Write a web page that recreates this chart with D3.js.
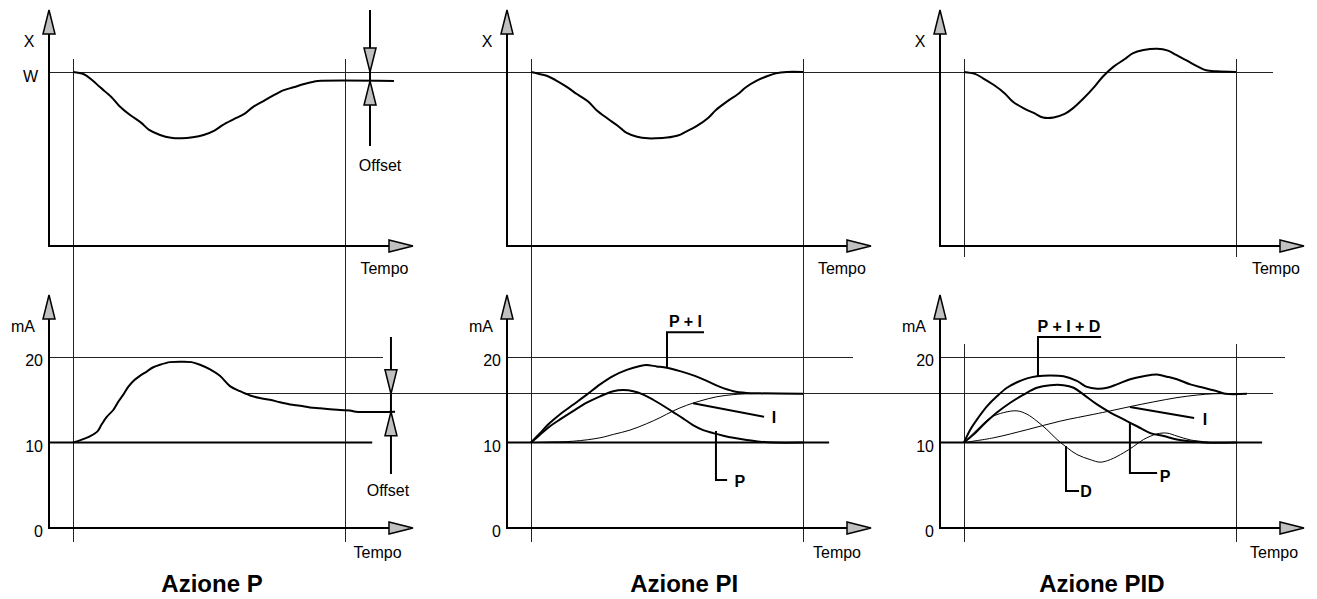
<!DOCTYPE html>
<html lang="it">
<head>
<meta charset="UTF-8">
<title>Azione P, PI, PID</title>
<script src="https://cdnjs.cloudflare.com/ajax/libs/d3/7.8.5/d3.min.js"></script>
<style>
    body { margin: 0; background: #fff; }
    svg { display: block; font-family: "Liberation Sans", Arial, sans-serif; }
    .curve { fill: none; stroke: #000; stroke-width: 2; stroke-linejoin: round; }
    .curve.thin { stroke-width: 1; }
    .ref { stroke: #222; stroke-width: 1; shape-rendering: crispEdges; }
    .thick { stroke: #000; stroke-width: 2; }
    .head { fill: #c0c0c0; stroke: #000; stroke-width: 1.5; }
    .lbl { font-size: 16px; fill: #000; }
    .tag { font-size: 16px; font-weight: bold; }
    .title { font-size: 24px; font-weight: bold; }
    .leader { fill: none; stroke: #000; stroke-width: 2; }
</style>
</head>
<body>
<div id="chart"></div>
<script>
// --- dati: [tempo, valore] ---
// grandezza X (W = 100)
const xP = [[0,100],[0.4,98.7],[0.7,95.4],[1.0,91.2],[1.4,85.8],[1.7,80.5],[2.1,75.3],[2.5,70.9],[2.8,66.7],[3.2,63.8],[3.6,62.2],[4.0,61.9],[4.4,62.5],[4.8,63.8],[5.2,66.3],[5.5,69.5],[5.9,72.8],[6.3,75.9],[6.6,79.7],[7.0,83.3],[7.4,86.8],[7.7,89.3],[8.1,91.2],[8.5,93.1],[8.8,94.3],[9.0,94.8],[11.8,94.8]];
const xPI = [[0,100],[0.3,98.9],[0.6,97.7],[0.9,95.4],[1.3,91.6],[1.7,87.2],[2.1,83.0],[2.4,78.2],[2.8,73.4],[3.2,69.0],[3.5,65.1],[3.9,62.8],[4.3,61.9],[4.6,61.9],[5.0,62.3],[5.4,63.5],[5.7,65.7],[6.1,69.0],[6.5,73.4],[6.8,78.2],[7.2,83.0],[7.6,87.2],[7.9,91.2],[8.3,95.0],[8.7,97.7],[9.0,99.2],[9.4,100],[10,100]];
const xPID = [[0,100],[0.4,98.9],[0.7,96.4],[1.1,92.5],[1.5,87.7],[1.8,82.9],[2.2,79.1],[2.6,76.2],[2.9,73.9],[3.3,73.9],[3.7,75.9],[4.0,79.1],[4.4,84.9],[4.8,91.6],[5.1,97.3],[5.5,103.1],[5.9,107.3],[6.2,110.7],[6.6,112.6],[7.1,113.4],[7.5,112.3],[7.8,109.8],[8.2,106.5],[8.6,103.1],[8.9,101.0],[9.3,100.4],[10,100]];

// uscita in mA
const maP = [[0,10],[0.3,10.3],[0.6,10.7],[0.9,11.3],[1.05,12.1],[1.24,13.0],[1.48,13.8],[1.67,14.8],[1.85,15.6],[2.03,16.5],[2.22,17.2],[2.46,17.8],[2.71,18.3],[2.95,18.8],[3.2,19.1],[3.57,19.4],[4.0,19.45],[4.36,19.4],[4.67,19.1],[5.04,18.55],[5.4,17.8],[5.77,16.6],[6.14,16.0],[6.51,15.5],[6.87,15.2],[7.24,15.0],[7.61,14.7],[7.98,14.45],[8.35,14.3],[8.71,14.1],[9.08,14.0],[9.45,13.9],[9.82,13.8],[10.18,13.75],[10.4,13.6],[11.84,13.6]];
const maPI_sum = [[0,10],[0.33,11.1],[0.7,12.3],[1.07,13.3],[1.56,14.45],[2.05,15.6],[2.54,16.8],[3.03,17.8],[3.52,18.5],[4.01,18.95],[4.25,19.05],[4.62,18.9],[4.99,18.75],[5.48,18.35],[5.97,17.85],[6.46,17.2],[6.95,16.5],[7.44,16.0],[7.93,15.8],[8.42,15.75],[10,15.7]];
const maPI_p = [[0,10],[0.33,10.9],[0.7,11.9],[1.07,12.7],[1.56,13.7],[2.05,14.65],[2.54,15.4],[3.03,16.0],[3.39,16.13],[3.76,16.0],[4.13,15.6],[4.49,15.0],[4.86,14.3],[5.23,13.55],[5.6,12.8],[5.97,12.0],[6.33,11.45],[6.7,11.1],[7.07,10.8],[7.44,10.55],[7.93,10.3],[8.42,10.1],[8.91,10.0],[10,10]];
const maPI_i = [[0,10],[0.58,10.05],[1.56,10.15],[2.54,10.55],[3.03,10.95],[3.64,11.45],[4.25,12.2],[4.74,12.9],[5.23,13.7],[5.72,14.35],[6.21,14.85],[6.83,15.35],[7.44,15.6],[8.05,15.7],[10,15.7]];
const maPID_sum = [[0,10],[0.23,11.5],[0.48,12.7],[0.85,14.25],[1.21,15.4],[1.58,16.4],[1.95,17.05],[2.32,17.5],[2.68,17.75],[3.17,17.85],[3.66,17.75],[4.15,17.2],[4.52,16.5],[4.89,16.3],[5.26,16.4],[5.62,16.8],[6.11,17.4],[6.6,17.75],[7.09,17.95],[7.46,17.7],[7.83,17.4],[8.32,16.8],[8.81,16.4],[9.3,16.0],[9.61,15.7],[10.4,15.7]];
const maPID_p = [[0,10],[0.36,10.95],[0.72,12.1],[1.21,13.5],[1.7,14.65],[2.19,15.6],[2.68,16.4],[3.17,16.7],[3.66,16.7],[4.03,16.4],[4.4,15.6],[4.89,14.45],[5.38,13.5],[5.87,12.7],[6.36,11.9],[6.85,11.1],[7.34,10.75],[7.83,10.35],[8.32,10.15],[8.81,10.0],[10,10]];
const maPID_d = [[0,10],[0.48,11.5],[0.97,12.9],[1.46,13.5],[1.95,13.7],[2.32,13.3],[2.68,12.5],[3.05,11.5],[3.42,10.35],[3.79,9.4],[4.15,8.6],[4.64,8.0],[5.01,7.7],[5.38,8.0],[5.87,8.8],[6.24,9.55],[6.6,10.35],[7.09,11.0],[7.46,11.1],[7.83,10.75],[8.32,10.3],[8.81,10.1],[9.06,10]];
const maPID_i = [[0,10],[1.09,10.55],[2.32,11.5],[3.54,12.5],[4.77,13.3],[5.38,13.7],[6.11,14.2],[6.97,14.75],[7.83,15.25],[8.57,15.55],[9.18,15.7],[10,15.7]];

const maTicks = [0, 10, 20];
const setpointX = 100;     // W
const offsetX = 94.8;      // valore finale con sola azione P
const steadyMA = 15.7;     // uscita a regime
const offsetMA = 13.6;     // uscita a regime con sola azione P
const titles = ["Azione P", "Azione PI", "Azione PID"];

// etichette delle curve: percorso della linea di richiamo [t, mA] e punto del testo
const tags = [
    [],
    [
        { text: "P + I", path: [[5.0,18.75],[5.0,22.9],[6.36,22.9]], at: [5.68,23.5] },
        { text: "I", path: [[5.96,14.6],[8.57,13.0]], at: [8.93,12.28] },
        { text: "P", path: [[6.8,11.35],[6.8,5.6],[7.21,5.6]], at: [7.68,4.8] }
    ],
    [
        { text: "P + I + D", path: [[2.72,17.66],[2.72,22.34],[5.04,22.34]], at: [3.86,22.92] },
        { text: "I", path: [[6.1,14.15],[8.46,12.87]], at: [8.86,12.05] },
        { text: "P", path: [[6.1,12.4],[6.1,6.43],[7.1,6.43]], at: [7.39,5.38] },
        { text: "D", path: [[3.75,9.59],[3.75,4.33],[4.23,4.33]], at: [4.49,3.63] }
    ]
];

// --- impaginazione ---
const width = 1317, height = 599;
const panelX0 = [73, 531, 964];
const span = 272;
const yTop = d3.scaleLinear().domain([0, 100]).range([246, 72]);
const yBot = d3.scaleLinear().domain([0, 20]).range([528, 357]);

const svg = d3.select("#chart").append("svg")
    .attr("width", width)
    .attr("height", height);

const xs = panelX0.map(x0 => d3.scaleLinear().domain([0, 10]).range([x0, x0 + span]));

function arrow(x, y, dir) {
    const L = 24, H = 6;
    let pts;
    if (dir === "up") pts = [[x, y], [x - H, y + L], [x + H, y + L]];
    if (dir === "down") pts = [[x, y], [x - H, y - L], [x + H, y - L]];
    if (dir === "right") pts = [[x, y], [x - L, y - H], [x - L, y + H]];
    svg.append("path").attr("class", "head").attr("d", "M" + pts.join("L") + "Z");
}

function hline(x1, x2, y, cls) {
    svg.append("line").attr("class", cls)
        .attr("x1", x1).attr("x2", x2).attr("y1", y).attr("y2", y);
}
function vline(x, y1, y2, cls) {
    svg.append("line").attr("class", cls)
        .attr("x1", x).attr("x2", x).attr("y1", y1).attr("y2", y2);
}

// linee di riferimento comuni ai tre pannelli
hline(xs[0](-0.9), xs[2](11.35), yTop(setpointX), "ref");
hline(xs[0](6.3), xs[2](11.35), yBot(steadyMA), "ref");

// linee verticali (inizio e fine transitorio)
xs.forEach((x, i) => {
    [0, 10].forEach(t => {
        if (i < 2) {
            vline(Math.round(x(t)), 59, 542, "ref");
        } else {
            vline(Math.round(x(t)), 59, 257, "ref");
            vline(Math.round(x(t)), 344, 542, "ref");
        }
    });
});

// linee 20 mA e 10 mA
const end20 = [11.4, 11.84, 11.8];
const end10 = [11.0, 10.96, 10.96];
xs.forEach((x, i) => {
    hline(x(-0.9), x(end20[i]), yBot(20), "ref");
    hline(x(-0.9), x(end10[i]), yBot(10), "thick");
});

const topCurves = [xP, xPI, xPID];
const botCurves = [
    [{ d: maP, thin: false }],
    [{ d: maPI_i, thin: true }, { d: maPI_p, thin: false }, { d: maPI_sum, thin: false }],
    [{ d: maPID_i, thin: true }, { d: maPID_d, thin: true }, { d: maPID_p, thin: false }, { d: maPID_sum, thin: false }]
];

const tempoTop = [11.45, 11.43, 11.47];
const tempoBot = [11.2, 11.25, 11.4];
const titleAt = [5.11, 5.63, 5.07];

xs.forEach((x, i) => {
    const smooth = d3.curveCatmullRom.alpha(0.5);
    const lineTop = d3.line().x(d => x(d[0])).y(d => yTop(d[1])).curve(smooth);
    const lineBot = d3.line().x(d => x(d[0])).y(d => yBot(d[1])).curve(smooth);

    svg.append("path").attr("class", "curve").attr("d", lineTop(topCurves[i]));
    botCurves[i].forEach(c => {
        svg.append("path").attr("class", c.thin ? "curve thin" : "curve").attr("d", lineBot(c.d));
    });

    // assi con frecce
    const ax = Math.round(x(-0.9));
    const tip = x(12.5);
    vline(ax, yTop(0) + 1, 34, "thick");
    hline(ax - 1, tip - 24, yTop(0), "thick");
    arrow(ax, 10, "up");
    arrow(tip, yTop(0), "right");

    vline(ax, yBot(0) + 1, 319, "thick");
    hline(ax - 1, tip - 24, yBot(0), "thick");
    arrow(ax, 295, "up");
    arrow(tip, yBot(0), "right");

    svg.append("text").attr("class", "lbl").attr("x", ax - 20).attr("y", 47)
        .attr("text-anchor", "middle").text("X");
    svg.append("text").attr("class", "lbl").attr("x", ax - 26).attr("y", 332)
        .attr("text-anchor", "middle").text("mA");
    svg.append("text").attr("class", "lbl").attr("x", x(tempoTop[i])).attr("y", 274)
        .attr("text-anchor", "middle").text("Tempo");
    svg.append("text").attr("class", "lbl").attr("x", x(tempoBot[i])).attr("y", 558)
        .attr("text-anchor", "middle").text("Tempo");

    const yAxis = svg.append("g")
        .attr("transform", `translate(${ax},0)`)
        .call(d3.axisLeft(yBot).tickValues(maTicks).tickSize(0).tickPadding(6))
        .attr("font-size", 16).attr("font-family", null);
    yAxis.select(".domain").remove();
    yAxis.selectAll("text").attr("dy", "0.56em").attr("fill", "#000");

    if (i === 0) {
        const wAxis = svg.append("g")
            .attr("transform", `translate(${ax},0)`)
            .call(d3.axisLeft(yTop).tickValues([setpointX]).tickFormat(() => "W").tickSize(0).tickPadding(11))
            .attr("font-size", 16).attr("font-family", null);
        wAxis.select(".domain").remove();
        wAxis.selectAll("text").attr("dy", "0.62em").attr("fill", "#000");
    }

    // etichette curve
    tags[i].forEach(tg => {
        svg.append("path").attr("class", "leader")
            .attr("d", d3.line().x(d => x(d[0])).y(d => yBot(d[1]))(tg.path));
        svg.append("text").attr("class", "tag")
            .attr("x", x(tg.at[0])).attr("y", yBot(tg.at[1]))
            .attr("text-anchor", "middle").text(tg.text);
    });

    svg.append("text").attr("class", "title").attr("x", x(titleAt[i])).attr("y", 592)
        .attr("text-anchor", "middle").text(titles[i]);
});

// indicatori di offset (solo azione P)
const x0 = xs[0];
const oxTop = x0(10.92);
vline(oxTop, 10, 146, "thick");
arrow(oxTop, yTop(setpointX), "down");
arrow(oxTop, yTop(offsetX), "up");
svg.append("text").attr("class", "lbl").attr("x", oxTop + 10).attr("y", 171)
    .attr("text-anchor", "middle").text("Offset");

const oxBot = x0(11.69);
vline(oxBot, 337, 474, "thick");
arrow(oxBot, yBot(steadyMA), "down");
arrow(oxBot, yBot(offsetMA), "up");
svg.append("text").attr("class", "lbl").attr("x", oxBot - 3).attr("y", 496)
    .attr("text-anchor", "middle").text("Offset");
</script>
</body>
</html>
